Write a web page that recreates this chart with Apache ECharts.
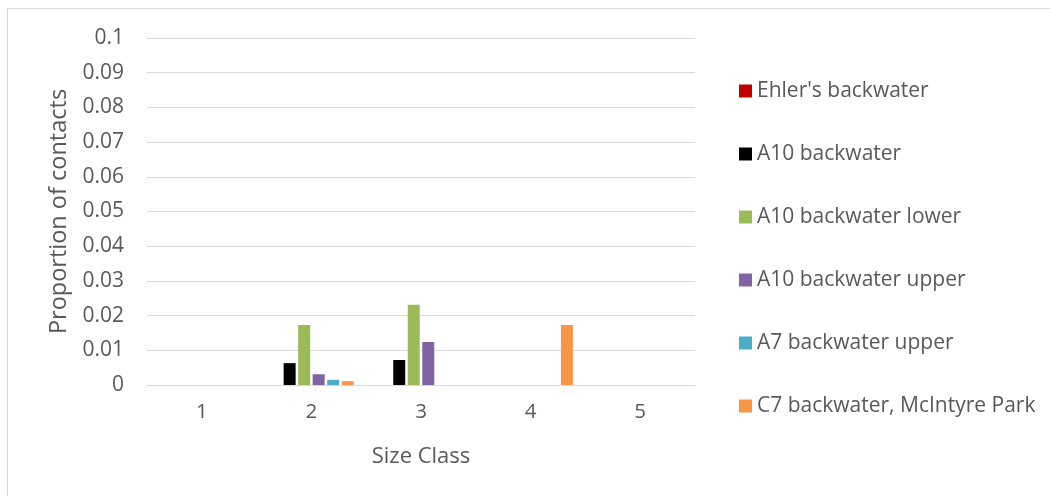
<!DOCTYPE html>
<html>
<head>
<meta charset="utf-8">
<script src="https://cdn.jsdelivr.net/npm/echarts@6/dist/echarts.min.js"></script>
<style>
  html, body { margin: 0; padding: 0; background: #ffffff; }
  #chart { width: 1050px; height: 496px; }
</style>
</head>
<body>
<div id="chart"></div>
<script>
// Size classes along the x axis
const sizeClasses = ['1', '2', '3', '4', '5'];

// Proportion of contacts per site, one value per size class
const ehlersBackwater   = [0, 0, 0, 0, 0];
const a10Backwater      = [0, 0.0063, 0.0072, 0, 0];
const a10BackwaterLower = [0, 0.0173, 0.0231, 0, 0];
const a10BackwaterUpper = [0, 0.0031, 0.0124, 0, 0];
const a7BackwaterUpper  = [0, 0.0015, 0, 0, 0];
const c7McIntyrePark    = [0, 0.0011, 0, 0.0173, 0];

const seriesNames = [
  "Ehler's backwater",
  'A10 backwater',
  'A10 backwater lower',
  'A10 backwater upper',
  'A7 backwater upper',
  'C7 backwater, McIntyre Park'
];
const seriesValues = [
  ehlersBackwater, a10Backwater, a10BackwaterLower,
  a10BackwaterUpper, a7BackwaterUpper, c7McIntyrePark
];
const seriesColors = ['#C00000', '#000000', '#9BBB59', '#8064A2', '#4BACC6', '#F79646'];

const FONT = '"Open Sans", "Liberation Sans", sans-serif';
const TEXT = '#595959';
const GRID = '#d9d9d9';

const chart = echarts.init(document.getElementById('chart'), null, { renderer: 'canvas' });

chart.setOption({
  animation: false,
  backgroundColor: '#ffffff',
  textStyle: { fontFamily: FONT, color: TEXT },
  graphic: [{
    type: 'rect',
    shape: { x: 7.5, y: 8.5, width: 1100, height: 600 },
    style: { fill: 'none', stroke: GRID, lineWidth: 1 },
    silent: true
  }],
  grid: { left: 147, right: 355, top: 38, bottom: 111, containLabel: false },
  legend: {
    orient: 'vertical',
    left: 739,
    top: 80,
    padding: 0,
    itemWidth: 13,
    itemHeight: 13,
    itemGap: 41,
    icon: 'rect',
    selectedMode: false,
    textStyle: { fontFamily: FONT, fontSize: 21, color: TEXT, lineHeight: 22, padding: [0, 0, 0, 0] },
    data: seriesNames
  },
  xAxis: {
    type: 'category',
    data: sizeClasses,
    name: 'Size Class',
    nameLocation: 'middle',
    nameGap: 61,
    nameTextStyle: { fontFamily: FONT, fontSize: 22, color: TEXT },
    axisLine: { lineStyle: { color: GRID, width: 1 } },
    axisTick: { show: false },
    axisLabel: { fontFamily: FONT, fontSize: 20.5, color: TEXT, margin: 17 },
    splitLine: { show: false }
  },
  yAxis: {
    type: 'value',
    min: 0,
    max: 0.1,
    interval: 0.01,
    name: 'Proportion of contacts',
    nameLocation: 'middle',
    nameGap: 76,
    nameTextStyle: { fontFamily: FONT, fontSize: 23.5, color: TEXT },
    axisLine: { show: false },
    axisTick: { show: false },
    axisLabel: {
      fontFamily: FONT, fontSize: 21, color: TEXT, margin: 23,
      formatter: v => String(Math.round(v * 100) / 100)
    },
    splitLine: { lineStyle: { color: GRID, width: 1 } }
  },
  series: seriesNames.map((name, i) => ({
    name,
    type: 'bar',
    data: seriesValues[i],
    barWidth: 12,
    barGap: '21%',
    itemStyle: { color: seriesColors[i] }
  }))
});
</script>
</body>
</html>
